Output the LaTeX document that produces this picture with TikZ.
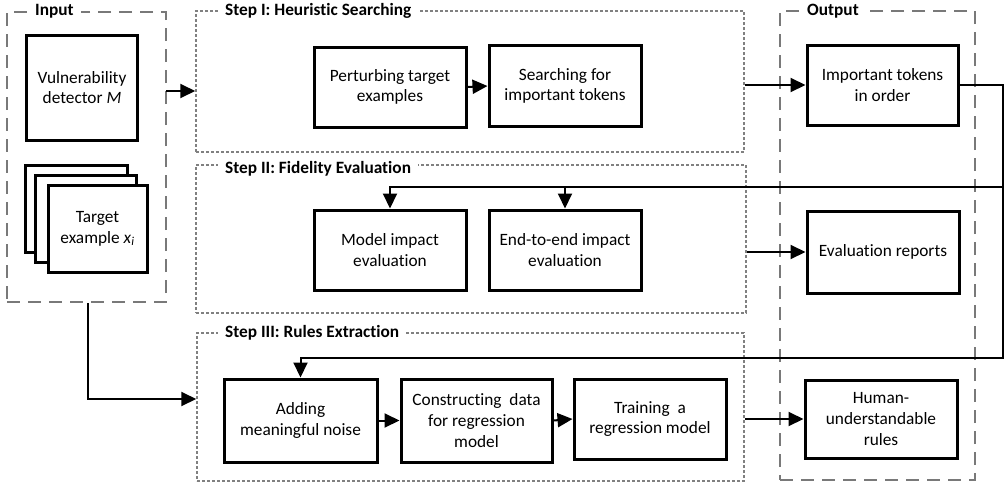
\documentclass[tikz,border=0pt]{standalone}
\usepackage{fontspec}
\setmainfont{Carlito}[Ligatures={NoCommon}]
\usetikzlibrary{arrows.meta}
\begin{document}
\begin{tikzpicture}[x=1pt,y=-1pt,
  box/.style={draw=black,line width=3pt,fill=white,rectangle,inner sep=0pt,align=center,
    font=\fontsize{17.3}{20.7}\selectfont},
  grpdash/.style={draw=gray!95!black,line width=2pt,dash pattern=on 13pt off 8pt,rectangle,inner sep=0pt},
  grpdot/.style={draw=gray,line width=1.5pt,dash pattern=on 3pt off 2pt,rectangle,inner sep=0pt},
  glabel/.style={fill=white,inner xsep=7pt,inner ysep=1pt,font=\fontsize{17.3}{20}\selectfont\bfseries,anchor=west},
  conn/.style={draw=black,line width=2pt},
  arr/.style={conn,-{Triangle[length=15pt,width=14pt]}}
]
\useasboundingbox (0,0) rectangle (1005,485);
% groups
\node[grpdash,minimum width=159pt,minimum height=290pt] (inbox) at (86.5,157) {};
\node[grpdot,minimum width=548pt,minimum height=141pt] (s1) at (470,81.5) {};
\node[grpdot,minimum width=550pt,minimum height=148pt] (s2) at (471,239) {};
\node[grpdot,minimum width=547pt,minimum height=148pt] (s3) at (470.5,407) {};
\node[grpdash,minimum width=195pt,minimum height=469pt] (outbox) at (877.5,245.5) {};
% group labels
\node[glabel] (lin) at (28,11) {Input};
\node[glabel] (ls1) at (218,11) {Step I: Heuristic Searching};
\node[glabel] (ls2) at (218,169) {Step II: Fidelity Evaluation};
\node[glabel] (ls3) at (218,333) {Step III: Rules Extraction};
\node[glabel] (lout) at (800,11) {Output};
% input boxes
\node[box,minimum width=111pt,minimum height=105pt] (vuln) at (82,87.5) {Vulnerability\\detector \textit{M}};
\node[box,minimum width=102pt,minimum height=87pt] (t3) at (76,208.5) {};
\node[box,minimum width=101pt,minimum height=87pt] (t2) at (86,218.5) {};
\node[box,minimum width=99pt,minimum height=87pt] (t1) at (97.5,228.5) {Target\\example \textit{x}\textsubscript{\textit{i}}};
% step I
\node[box,minimum width=152pt,minimum height=80pt] (perturb) at (390,87) {Perturbing target\\examples};
\node[box,minimum width=152pt,minimum height=81pt] (search) at (565,86) {Searching for\\important tokens};
% step II
\node[box,minimum width=152pt,minimum height=80pt] (model) at (390,250) {Model impact\\evaluation};
\node[box,minimum width=152pt,minimum height=80pt] (endto) at (565,250) {End-to-end impact\\evaluation};
% step III
\node[box,minimum width=153pt,minimum height=83pt] (adding) at (300.5,420.5) {Adding\\meaningful noise};
\node[box,minimum width=151pt,minimum height=83pt] (constr) at (476.5,420.5) {Constructing~ data\\for regression\\model};
\node[box,minimum width=152pt,minimum height=80pt] (train) at (650,419) {Training~ a\\regression model};
% output
\node[box,minimum width=151pt,minimum height=80pt] (imp) at (882.5,85) {Important tokens\\in order};
\node[box,minimum width=152pt,minimum height=82pt] (evr) at (883,252) {Evaluation reports};
\node[box,minimum width=152pt,minimum height=78pt] (hum) at (881,419) {Human-\\understandable\\rules};
% connectors
\coordinate (a1) at (166,91);
\draw[arr] (a1) -- (s1.west |- a1);
\draw[arr] (perturb.east) -- (search.west);
\draw[arr] (s1.east |- imp) -- (imp.west);
\draw[arr] (s2.east |- evr) -- (evr.west);
\draw[arr] (s3.east |- hum) -- (hum.west);
\draw[arr] (adding.east) -- (constr.west);
\draw[arr] (constr.east) -- (train.west);
\coordinate (r1) at (1003,85);
\coordinate (r2) at (1003,187);
\coordinate (r3) at (1003,358);
\draw[arr] (imp.east) -- (r1) -- (r3) -- (adding.north |- r3) -- (adding.north);
\draw[arr] (r2) -- (model.north |- r2) -- (model.north);
\draw[arr] (endto.north |- r2) -- (endto.north);
\coordinate (b1) at (88,399);
\draw[arr] (inbox.south -| b1) -- (b1) -- (s3.west |- b1);
\end{tikzpicture}
\end{document}
